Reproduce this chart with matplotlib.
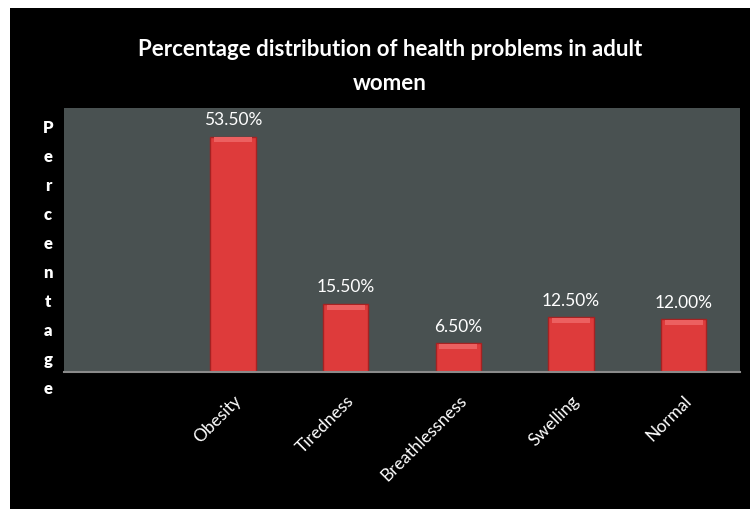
import matplotlib.pyplot as plt
import matplotlib.patches as mpatches
import numpy as np

categories = ['', 'Obesity', 'Tiredness', 'Breathlessness', 'Swelling', 'Normal']
values = [np.nan, 53.5, 15.5, 6.5, 12.5, 12.0]
labels = ['', '53.50%', '15.50%', '6.50%', '12.50%', '12.00%']

plt.rcParams['font.family'] = ['Lato', 'DejaVu Sans']

W, H = 750, 509
fig = plt.figure(figsize=(7.5, 5.09), dpi=100, facecolor='white')

# black chart area with a white margin on the left and top
fig.patches.append(mpatches.Rectangle((10 / W, 0), 1 - 10 / W, 1 - 8 / H,
                                      transform=fig.transFigure, facecolor='black',
                                      edgecolor='none', zorder=-5))

ax = fig.add_axes([64 / W, 1 - 372 / H, (740 - 64) / W, (372 - 108) / H])
ax.set_facecolor('#495151')

x = np.arange(len(categories))
vals = np.array(values)
ax.bar(x, vals, width=0.4, color='#DE3B3B', edgecolor='#A52222', linewidth=1, zorder=2)
# bevel highlight on top of each bar
ax.bar(x, np.where(np.isnan(vals), np.nan, 1.1), bottom=vals - 1.3,
       width=0.34, color='#EC6060', edgecolor='none', zorder=3)

for xi, v, lab in zip(x, values, labels):
    if lab:
        ax.annotate(lab, (xi, v), xytext=(0, 6), textcoords='offset points',
                    ha='center', va='bottom', color='white', fontsize=12.5)

ax.set_xlim(-0.5, len(categories) - 0.5)
ax.set_ylim(0, 60)
ax.set_yticks([])
ax.set_xticks(x[1:])
ax.set_xticklabels(categories[1:], rotation=45, ha='right', rotation_mode='anchor',
                   color='white', fontsize=12.5)
ax.tick_params(axis='x', length=0, pad=15)
for s in ['top', 'right', 'left']:
    ax.spines[s].set_visible(False)
ax.spines['bottom'].set_color('#8a8a8a')
ax.spines['bottom'].set_linewidth(1.5)

fig.text(390 / W, 1 - 50 / H, 'Percentage distribution of health problems in adult',
         ha='center', va='center', color='white', fontsize=16, fontweight='bold')
fig.text(390 / W, 1 - 83 / H, 'women', ha='center', va='center', color='white',
         fontsize=16, fontweight='bold')

# vertical stacked axis title
for i, ch in enumerate('Percentage'):
    fig.text(48 / W, 1 - (128 + i * 29) / H, ch, ha='center', va='center',
             color='white', fontsize=12, fontweight='heavy')

fig.savefig('out.png', dpi=100, facecolor=fig.get_facecolor())
